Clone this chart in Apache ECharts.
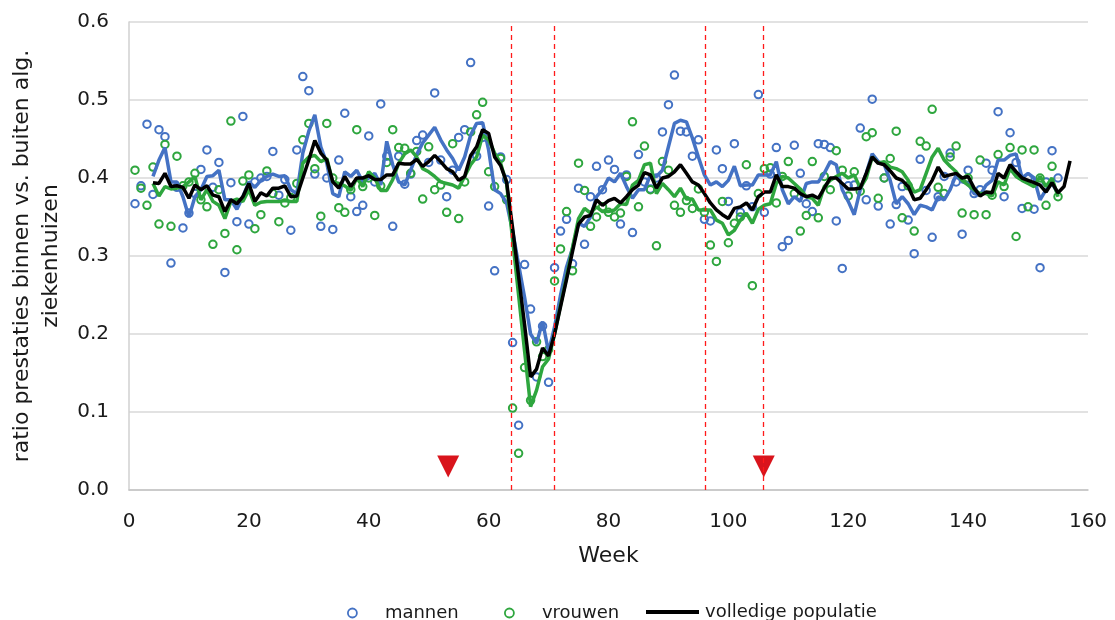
<!DOCTYPE html>
<html>
<head>
<meta charset="utf-8">
<script src="https://cdn.jsdelivr.net/npm/echarts@6/dist/echarts.min.js"></script>
<style>
  html, body { margin: 0; padding: 0; background: #fff; }
  #chart { width: 1115px; height: 620px; }
</style>
</head>
<body>
<div id="chart"></div>
<script>
// Weekly ratio of hospital services (inside vs. outside general hospitals)

// scatter points, one per week, starting at week 1
const mannenFirstWeek = 1;
const mannen = [
  0.367,0.390,0.469,0.379,0.462,0.453,0.291,0.388,0.336,0.355,
  0.380,0.411,0.436,0.388,0.420,0.279,0.394,0.344,0.479,0.341,
  0.395,0.400,0.402,0.434,0.378,0.398,0.333,0.436,0.530,0.512,
  0.405,0.338,0.400,0.334,0.423,0.483,0.376,0.357,0.365,0.454,
  0.395,0.495,0.428,0.338,0.428,0.392,0.405,0.448,0.455,0.420,
  0.509,0.423,0.376,0.410,0.452,0.462,0.548,0.428,0.452,0.364,
  0.281,0.427,0.398,0.189,0.083,0.289,0.232,0.145,0.210,0.138,
  0.285,0.332,0.347,0.290,0.387,0.315,0.376,0.415,0.385,0.423,
  0.411,0.341,0.404,0.330,0.430,0.395,0.386,0.400,0.459,0.494,
  0.532,0.460,0.459,0.428,0.449,0.347,0.345,0.436,0.412,0.370,
  0.444,0.356,0.390,0.363,0.507,0.356,0.405,0.439,0.312,0.320,
  0.442,0.406,0.367,0.357,0.444,0.443,0.439,0.345,0.284,0.390,
  0.391,0.464,0.372,0.501,0.364,0.400,0.341,0.366,0.389,0.346,
  0.303,0.424,0.384,0.324,0.376,0.402,0.432,0.395,0.328,0.410,
  0.380,0.385,0.419,0.410,0.485,0.376,0.458,0.420,0.361,0.400,
  0.360,0.285,0.395,0.435,0.400
];

const vrouwenFirstWeek = 1;
const vrouwen = [
  0.410,0.387,0.365,0.414,0.341,0.443,0.338,0.428,0.390,0.395,
  0.406,0.372,0.363,0.315,0.385,0.329,0.473,0.308,0.396,0.404,
  0.335,0.353,0.409,0.380,0.344,0.368,0.375,0.393,0.449,0.470,
  0.412,0.351,0.470,0.400,0.362,0.356,0.385,0.462,0.389,0.400,
  0.352,0.390,0.420,0.462,0.439,0.438,0.406,0.434,0.373,0.440,
  0.385,0.391,0.356,0.444,0.348,0.395,0.459,0.481,0.497,0.408,
  0.389,0.425,0.372,0.105,0.047,0.157,0.115,0.190,0.171,0.180,
  0.268,0.309,0.357,0.281,0.419,0.384,0.338,0.350,0.363,0.356,
  0.350,0.355,0.402,0.472,0.363,0.441,0.385,0.313,0.421,0.410,
  0.365,0.356,0.371,0.361,0.386,0.356,0.314,0.293,0.370,0.317,
  0.342,0.350,0.417,0.262,0.380,0.412,0.413,0.368,0.402,0.421,
  0.380,0.332,0.352,0.421,0.349,0.402,0.385,0.435,0.410,0.377,
  0.408,0.383,0.453,0.458,0.374,0.400,0.425,0.460,0.349,0.390,
  0.332,0.447,0.441,0.488,0.388,0.380,0.427,0.441,0.355,0.400,
  0.353,0.423,0.353,0.378,0.430,0.389,0.439,0.325,0.436,0.363,
  0.436,0.400,0.365,0.415,0.376
];

// smoothed trend per group, starting at week 4
const trendFirstWeek = 4;
const mannenTrend = [
  0.402,0.423,0.439,0.395,0.395,0.376,0.350,0.376,0.385,0.402,
  0.403,0.410,0.372,0.372,0.360,0.376,0.395,0.388,0.397,0.402,
  0.405,0.402,0.403,0.385,0.380,0.432,0.460,0.481,0.440,0.419,
  0.380,0.376,0.408,0.402,0.410,0.395,0.400,0.406,0.391,0.447,
  0.417,0.395,0.391,0.410,0.430,0.445,0.455,0.465,0.449,0.436,
  0.425,0.410,0.427,0.455,0.470,0.471,0.436,0.385,0.380,0.368,
  0.332,0.289,0.247,0.200,0.188,0.216,0.177,0.209,0.250,0.286,
  0.310,0.342,0.338,0.350,0.376,0.385,0.400,0.395,0.406,0.389,
  0.374,0.385,0.385,0.404,0.402,0.410,0.440,0.470,0.474,0.472,
  0.451,0.427,0.404,0.391,0.395,0.389,0.397,0.415,0.390,0.391,
  0.391,0.404,0.404,0.404,0.421,0.385,0.367,0.376,0.370,0.393,
  0.395,0.395,0.406,0.421,0.417,0.385,0.370,0.353,0.385,0.406,
  0.431,0.421,0.417,0.397,0.367,0.376,0.367,0.353,0.365,0.363,
  0.359,0.376,0.372,0.385,0.404,0.395,0.393,0.380,0.378,0.391,
  0.397,0.423,0.423,0.429,0.431,0.400,0.406,0.400,0.372,0.385,
  0.393,0.380
];

const vrouwenTrend = [
  0.393,0.377,0.389,0.386,0.387,0.389,0.395,0.402,0.372,0.385,
  0.370,0.365,0.348,0.370,0.373,0.370,0.385,0.365,0.369,0.370,
  0.370,0.370,0.371,0.370,0.370,0.419,0.427,0.429,0.421,0.425,
  0.395,0.393,0.390,0.384,0.400,0.389,0.408,0.400,0.384,0.384,
  0.398,0.419,0.431,0.436,0.427,0.412,0.408,0.402,0.395,0.393,
  0.391,0.387,0.402,0.417,0.427,0.455,0.449,0.432,0.419,0.393,
  0.321,0.250,0.178,0.107,0.128,0.158,0.168,0.200,0.237,0.273,
  0.311,0.348,0.361,0.355,0.363,0.357,0.357,0.359,0.367,0.366,
  0.391,0.397,0.417,0.419,0.380,0.393,0.385,0.376,0.387,0.373,
  0.373,0.359,0.359,0.359,0.346,0.342,0.327,0.333,0.346,0.355,
  0.342,0.360,0.365,0.367,0.393,0.402,0.400,0.393,0.386,0.376,
  0.374,0.365,0.389,0.397,0.402,0.406,0.400,0.404,0.387,0.400,
  0.427,0.419,0.421,0.414,0.412,0.408,0.397,0.382,0.385,0.406,
  0.427,0.438,0.423,0.415,0.408,0.397,0.391,0.385,0.380,0.380,
  0.377,0.395,0.391,0.412,0.402,0.397,0.393,0.389,0.402,0.389,
  0.400,0.376
];

// whole population, weeks 4 .. 157
const populatieFirstWeek = 4;
const populatie = [
  0.394,0.393,0.406,0.389,0.390,0.388,0.374,0.391,0.385,0.390,
  0.378,0.376,0.357,0.372,0.367,0.376,0.393,0.370,0.381,0.377,
  0.387,0.387,0.390,0.376,0.377,0.400,0.423,0.448,0.432,0.423,
  0.395,0.387,0.402,0.389,0.400,0.400,0.403,0.398,0.398,0.404,
  0.404,0.419,0.418,0.418,0.424,0.415,0.421,0.429,0.421,0.412,
  0.408,0.397,0.402,0.429,0.440,0.462,0.457,0.427,0.416,0.395,
  0.336,0.274,0.212,0.145,0.155,0.182,0.172,0.200,0.235,0.270,
  0.306,0.341,0.350,0.352,0.372,0.365,0.371,0.374,0.368,0.376,
  0.385,0.391,0.407,0.404,0.387,0.400,0.402,0.408,0.417,0.406,
  0.395,0.391,0.380,0.368,0.359,0.353,0.348,0.361,0.363,0.368,
  0.359,0.376,0.382,0.382,0.404,0.389,0.389,0.387,0.380,0.376,
  0.378,0.374,0.387,0.400,0.400,0.393,0.386,0.386,0.387,0.406,
  0.427,0.419,0.417,0.409,0.400,0.397,0.389,0.372,0.374,0.385,
  0.397,0.414,0.402,0.404,0.406,0.400,0.402,0.387,0.377,0.382,
  0.381,0.406,0.400,0.417,0.408,0.400,0.397,0.394,0.391,0.382,
  0.394,0.381,0.389,0.422
];

// period boundaries (dashed) and event markers (triangles)
const periodWeeks = [63.8, 70.9, 96.2, 105.9];
const eventWeeks = [53.25, 105.9];
const eventLevel = 0.03;

const BLUE = '#4472c4';
const GREEN = '#2ea63e';
const BLACK = '#000000';
const RED = '#ff1a1a';
const FONT = 'DejaVu Sans, Verdana, sans-serif';
const TEXT = '#1a1a1a';

function toPairs(values, firstWeek) {
  return values.map((v, i) => [firstWeek + i, v]);
}

const chart = echarts.init(document.getElementById('chart'), null, { renderer: 'canvas' });

const openCircle = (color) => ({
  color: 'rgba(0,0,0,0)',
  borderColor: color,
  borderWidth: 2,
  opacity: 1
});

// one legend block per entry so every entry sits at its own spot
const legendBase = {
  padding: 0,
  itemGap: 0,
  textStyle: { fontSize: 18, color: TEXT, fontFamily: FONT, padding: [0, 0, 0, 1] }
};

chart.setOption({
  animation: false,
  backgroundColor: '#ffffff',
  textStyle: { fontFamily: FONT, color: TEXT },
  grid: { left: 128, right: 27, top: 22, bottom: 130, containLabel: false },
  xAxis: {
    type: 'value',
    min: 0, max: 160, interval: 20,
    name: 'Week',
    nameLocation: 'middle',
    nameGap: 55,
    nameTextStyle: { fontSize: 22, color: TEXT, fontFamily: FONT },
    axisLine: { show: true, lineStyle: { color: '#c4c4c4', width: 1.5 } },
    axisTick: { show: false },
    axisLabel: { fontSize: 20, color: TEXT, margin: 22, fontFamily: FONT },
    splitLine: { show: false }
  },
  yAxis: {
    type: 'value',
    min: 0, max: 0.6, interval: 0.1,
    name: 'ratio prestaties binnen vs. buiten alg.\nziekenhuizen',
    nameLocation: 'middle',
    nameGap: 63,
    nameRotate: 90,
    nameTextStyle: { fontSize: 22, color: TEXT, fontFamily: FONT, lineHeight: 29, align: 'center' },
    axisLine: { show: true, lineStyle: { color: '#d0d0d0', width: 1.5 } },
    axisTick: { show: false },
    axisLabel: { fontSize: 20, color: TEXT, margin: 20, fontFamily: FONT, formatter: (v) => v.toFixed(1) },
    splitLine: { show: true, lineStyle: { color: '#d9d9d9', width: 1.5 } }
  },
  legend: [
    Object.assign({}, legendBase, {
      left: 347, top: 604, itemWidth: 53, itemHeight: 9,
      data: [{ name: 'mannen', icon: 'circle', itemStyle: { color: '#fff', borderColor: BLUE, borderWidth: 1.8 } }]
    }),
    Object.assign({}, legendBase, {
      left: 504, top: 604, itemWidth: 53, itemHeight: 9,
      data: [{ name: 'vrouwen', icon: 'circle', itemStyle: { color: '#fff', borderColor: GREEN, borderWidth: 1.8 } }]
    }),
    Object.assign({}, legendBase, {
      left: 646, top: 603, itemWidth: 53, itemHeight: 10,
      data: [{ name: 'volledige populatie', icon: 'path://M0,0 H53 V4 H0 Z', itemStyle: { color: BLACK } }]
    })
  ],
  series: [
    {
      name: 'mannen',
      type: 'scatter',
      symbol: 'circle',
      symbolSize: 7.5,
      itemStyle: openCircle(BLUE),
      data: toPairs(mannen, mannenFirstWeek)
    },
    {
      name: 'vrouwen',
      type: 'scatter',
      symbol: 'circle',
      symbolSize: 7.5,
      itemStyle: openCircle(GREEN),
      data: toPairs(vrouwen, vrouwenFirstWeek)
    },
    {
      name: 'mannen (trend)',
      type: 'line',
      showSymbol: false,
      symbol: 'none',
      lineStyle: { color: BLUE, width: 3.5 },
      itemStyle: { color: BLUE },
      data: toPairs(mannenTrend, trendFirstWeek)
    },
    {
      name: 'vrouwen (trend)',
      type: 'line',
      showSymbol: false,
      symbol: 'none',
      lineStyle: { color: GREEN, width: 3.5 },
      itemStyle: { color: GREEN },
      data: toPairs(vrouwenTrend, trendFirstWeek)
    },
    {
      name: 'volledige populatie',
      type: 'line',
      showSymbol: false,
      symbol: 'none',
      lineStyle: { color: BLACK, width: 3.5 },
      itemStyle: { color: BLACK },
      data: toPairs(populatie, populatieFirstWeek)
    },
    {
      name: 'markers',
      type: 'scatter',
      symbol: 'triangle',
      symbolRotate: 180,
      symbolSize: [22, 22],
      itemStyle: { color: '#d9141c', opacity: 1 },
      data: eventWeeks.map((w) => [w, eventLevel]),
      markLine: {
        silent: true,
        symbol: ['none', 'none'],
        label: { show: false },
        lineStyle: { color: RED, width: 1.3, type: [5, 4], opacity: 1 },
        data: periodWeeks.map((w) => ({ xAxis: w }))
      }
    }
  ]
});
</script>
</body>
</html>
